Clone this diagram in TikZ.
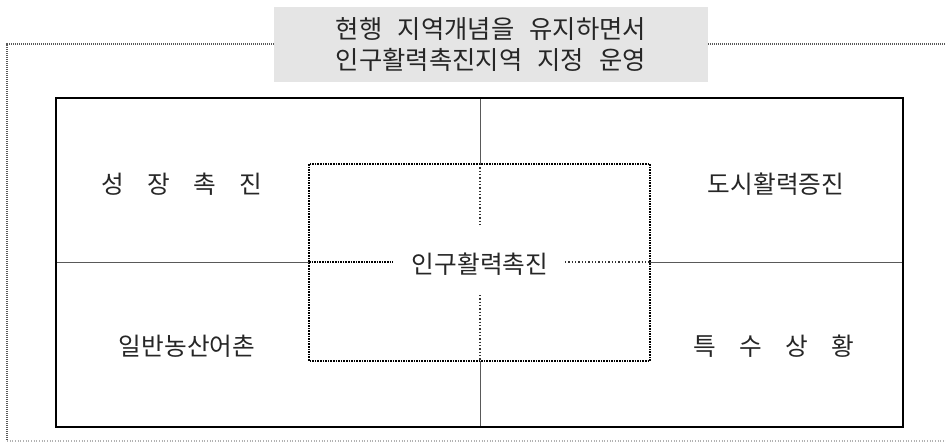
\documentclass[tikz,border=0pt]{standalone}
\usepackage{fontspec}
\setmainfont{Noto Sans CJK KR}
\newcommand{\wsp}{\hspace{0.6em}}
\begin{document}
\begin{tikzpicture}[x=0.75pt,y=-0.75pt,
  lbl/.style={inner sep=0pt,font=\fontsize{18.5pt}{22pt}\selectfont,text=black!85},
  ttl/.style={inner sep=0pt,font=\fontsize{19pt}{22pt}\selectfont,text=black!85},
  outerdot/.style={draw=black!65,line width=1.2pt,dash pattern=on 0.6pt off 0.9pt},
  outerlight/.style={draw=black!30,line width=0.8pt,dash pattern=on 0.8pt off 1.2pt},
  thin/.style={draw=black!65,line width=0.7pt},
  thindot/.style={draw=black!80,line width=0.9pt,dash pattern=on 1pt off 1.5pt},
  innerdot/.style={draw=black,line width=2.2pt,dash pattern=on 1.2pt off 0.75pt}]
\useasboundingbox (0,0) rectangle (946,443);
% outer frame
\coordinate (otl) at (7,44);
\coordinate (obl) at (7,441);
\coordinate (obr) at (946,441);
\coordinate (otr) at (946,44);
\node[fill=black!10,minimum width=434*0.75pt,minimum height=75*0.75pt,inner sep=0pt] (title) at (491,44.5) {};
\draw[outerdot] (title.west |- otl) -- (otl) -- (obl);
\draw[outerdot] (title.east |- otr) -- (otr);
\draw[outerlight] (obl) -- (obr);
\node[ttl] (t1) at (491,29) {현행\wsp 지역개념을\wsp 유지하면서};
\node[ttl] (t2) at (491,60) {인구활력촉진지역\wsp 지정\wsp 운영};
% main rectangle
\coordinate (mtl) at (56,98);
\coordinate (mbr) at (903,427);
\coordinate (mtc) at (480,98);
\coordinate (mbc) at (480,427);
\coordinate (mlc) at (56,262);
\coordinate (mrc) at (903,262);
% inner box
\coordinate (itl) at (309,164);
\coordinate (ibr) at (650,361);
\coordinate (itc) at (480,164);
\coordinate (ibc) at (480,361);
\coordinate (ilc) at (309,262);
\coordinate (irc) at (650,262);
\coordinate (vu) at (480,227);
\coordinate (vd) at (480,295);
\coordinate (hl) at (393,262);
\coordinate (hr) at (565,262);
\draw[thin] (mtc) -- (itc);
\draw[thin] (ibc) -- (mbc);
\draw[thin] (mlc) -- (ilc);
\draw[thin] (irc) -- (mrc);
\draw[thindot] (itc) -- (vu);
\draw[thindot] (vd) -- (ibc);
\draw[thindot] (hr) -- (irc);
\draw[innerdot,line width=1.6pt] (ilc) -- (hl);
\draw[innerdot] (itl) rectangle (ibr);
\draw[draw=black,line width=1.2pt] (mtl) rectangle (mbr);
% labels
\node[lbl] (center) at (480,264) {인구활력촉진};
\node[lbl] (q1) at (182,184) {성\hspace{0.95em}장\hspace{0.95em}촉\hspace{0.95em}진};
\node[lbl] (q2) at (776,184) {도시활력증진};
\node[lbl] (q3) at (187,346) {일반농산어촌};
\node[lbl] (q4) at (774,346) {특\hspace{0.95em}수\hspace{0.95em}상\hspace{0.95em}황};
\end{tikzpicture}
\end{document}
